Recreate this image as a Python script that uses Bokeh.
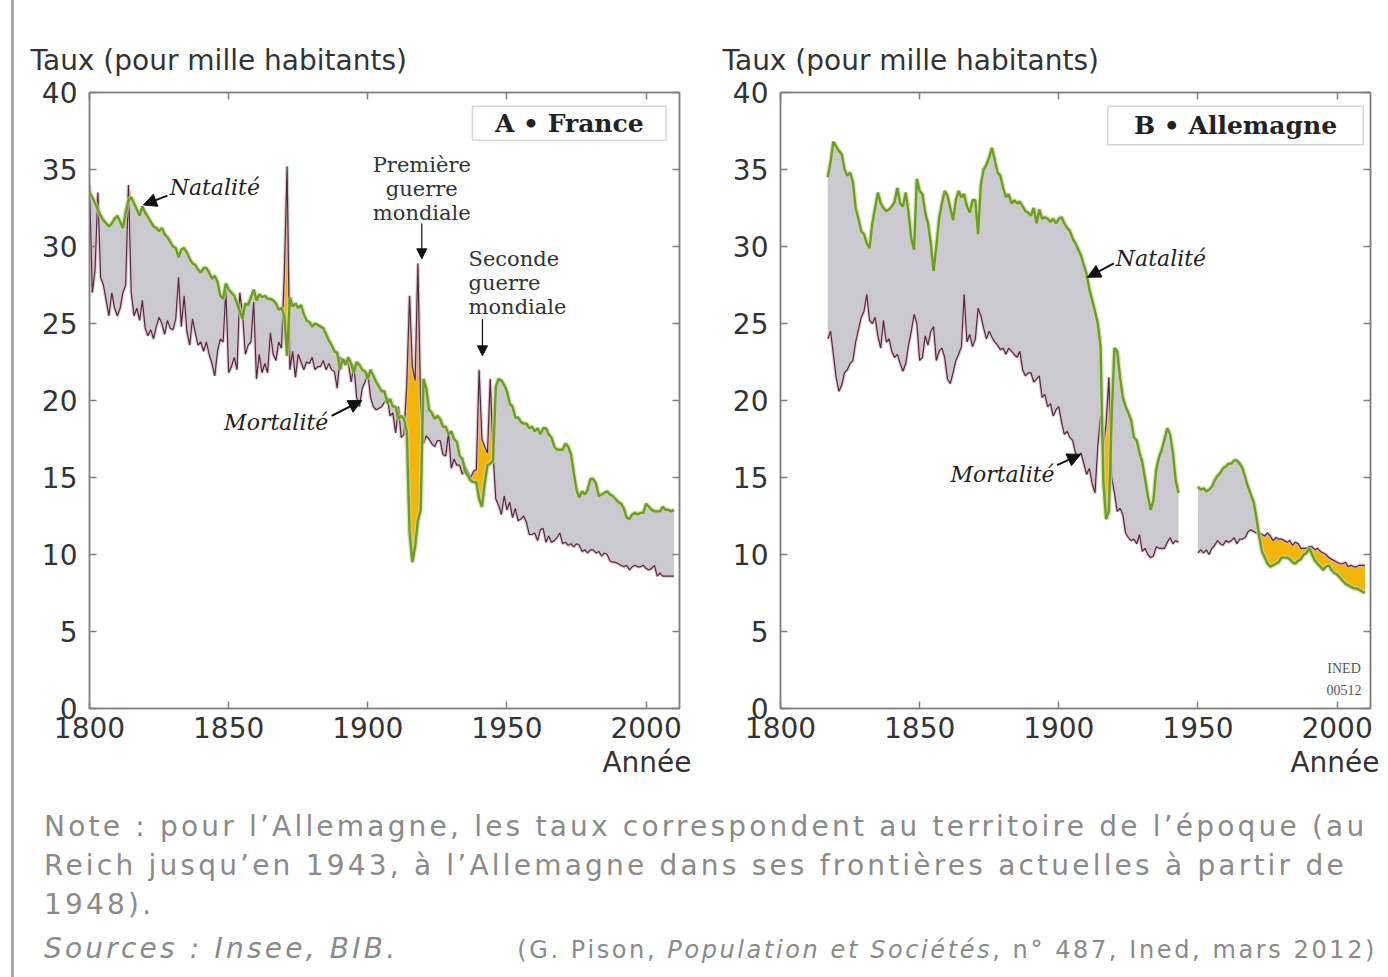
import numpy as np
from bokeh.plotting import figure
from bokeh.models import Range1d, LinearAxis, FixedTicker, Label, Arrow, NormalHead, BoxAnnotation, Div, Title
from bokeh.layouts import column, row
from bokeh.embed import file_html
from bokeh.resources import INLINE

# ---------------- data (taux pour mille habitants) ----------------
fr_years = list(range(1800, 2011))
fr_birth = [
    33.5, 33.2, 32.8, 32.4, 32.0, 31.7, 31.5, 31.3, 31.5, 31.8,   # 1800
    32.0, 31.6, 31.2, 32.2, 33.0, 33.2, 32.8, 32.4, 32.0, 32.6,   # 1810
    32.2, 31.9, 31.6, 31.3, 31.2, 31.0, 31.2, 30.8, 30.6, 30.3,   # 1820
    30.0, 29.9, 29.3, 29.8, 29.9, 29.6, 29.2, 28.9, 28.8, 28.5,   # 1830
    28.3, 28.6, 28.6, 28.3, 27.9, 28.1, 27.7, 26.8, 26.6, 27.6,   # 1840
    27.2, 27.0, 26.8, 26.3, 25.8, 25.3, 26.3, 26.2, 26.7, 27.2,   # 1850
    26.5, 26.9, 26.7, 26.8, 26.6, 26.6, 26.5, 26.3, 25.9, 26.0,   # 1860
    25.5, 22.9, 26.7, 26.1, 26.3, 26.0, 26.2, 25.6, 25.2, 25.1,   # 1870
    24.8, 25.0, 24.9, 24.8, 24.7, 24.3, 23.9, 23.6, 23.2, 23.1,   # 1880
    22.0, 22.7, 22.3, 22.8, 22.4, 21.8, 22.5, 22.3, 22.0, 21.9,   # 1890
    21.4, 22.0, 21.6, 21.2, 20.9, 20.6, 20.6, 19.8, 20.1, 19.6,   # 1900
    19.6, 18.8, 19.0, 18.8, 18.0, 11.5, 9.5, 10.5, 12.2, 12.9,    # 1910
    21.4, 20.8, 19.4, 19.2, 18.8, 19.0, 18.8, 18.3, 18.3, 17.8,   # 1920
    18.0, 17.5, 17.3, 16.4, 16.2, 15.4, 15.1, 14.8, 14.7, 14.7,   # 1930
    13.6, 13.1, 14.6, 15.8, 15.9, 16.1, 20.9, 21.4, 21.3, 21.0,   # 1940
    20.6, 19.8, 19.6, 18.9, 18.9, 18.6, 18.5, 18.5, 18.2, 18.3,   # 1950
    18.0, 18.2, 17.8, 18.2, 18.2, 17.8, 17.6, 17.0, 16.8, 16.8,   # 1960
    16.8, 17.2, 17.0, 16.5, 15.3, 14.2, 13.7, 14.1, 13.9, 14.2,   # 1970
    14.9, 14.9, 14.6, 13.8, 13.9, 14.0, 14.1, 13.9, 13.8, 13.6,   # 1980
    13.4, 13.3, 13.0, 12.4, 12.3, 12.6, 12.7, 12.6, 12.7, 12.7,   # 1990
    13.3, 13.1, 12.9, 12.8, 12.8, 12.8, 13.1, 12.9, 12.9, 12.8, 12.9,  # 2000
]
fr_death = [
    34.0, 27.0, 28.5, 33.5, 28.0, 27.5, 26.5, 25.5, 27.0, 26.0,   # 1800
    25.5, 26.0, 27.0, 27.5, 34.0, 27.0, 25.5, 26.0, 25.2, 26.5,   # 1810
    24.7, 24.2, 24.6, 24.0, 24.8, 25.4, 25.0, 24.3, 25.2, 24.7,   # 1820
    24.6, 25.3, 28.0, 24.8, 26.8, 24.5, 23.6, 25.3, 24.4, 23.6,   # 1830
    23.8, 23.2, 23.8, 23.0, 22.4, 21.6, 23.2, 24.0, 23.8, 27.2,   # 1840
    21.8, 22.2, 22.8, 22.0, 27.0, 25.6, 23.0, 23.6, 23.8, 26.4,   # 1850
    21.4, 23.0, 21.8, 22.4, 21.8, 24.4, 23.0, 22.6, 23.8, 23.4,   # 1860
    28.2, 35.2, 22.0, 23.2, 21.5, 23.0, 22.5, 22.0, 22.5, 22.4,   # 1870
    22.8, 22.0, 22.2, 22.2, 22.6, 22.0, 22.4, 22.0, 21.9, 20.8,   # 1880
    22.8, 22.6, 22.6, 22.5, 21.2, 22.3, 20.2, 19.6, 20.8, 21.2,   # 1890
    21.8, 20.2, 19.6, 19.4, 19.5, 19.6, 19.9, 20.2, 19.0, 19.2,   # 1900
    17.9, 19.6, 17.6, 17.8, 21.0, 26.8, 22.2, 21.3, 28.9, 19.6,   # 1910
    17.2, 17.7, 17.5, 17.2, 17.0, 17.4, 17.4, 16.5, 16.4, 17.9,   # 1920
    15.6, 16.2, 15.8, 15.8, 15.2, 15.7, 15.3, 15.0, 15.4, 15.5,   # 1930
    22.0, 17.5, 17.0, 16.6, 21.4, 16.6, 13.6, 13.2, 12.6, 13.8,   # 1940
    12.9, 13.4, 12.4, 13.0, 12.2, 12.3, 12.5, 12.1, 11.3, 11.3,   # 1950
    11.4, 10.9, 11.6, 11.7, 10.8, 11.2, 10.8, 10.9, 11.1, 11.4,   # 1960
    10.7, 10.8, 10.6, 10.7, 10.5, 10.7, 10.6, 10.2, 10.3, 10.1,   # 1970
    10.3, 10.3, 10.1, 10.2, 9.9, 10.1, 10.0, 9.6, 9.5, 9.5,       # 1980
    9.4, 9.3, 9.2, 9.3, 9.0, 9.2, 9.3, 9.2, 9.2, 9.3,             # 1990
    9.1, 9.0, 9.1, 9.3, 8.6, 8.8, 8.6, 8.6, 8.6, 8.6, 8.6,        # 2000
]

# Allemagne : Reich jusqu'en 1943
de_years_reich = list(range(1817, 1944))
de_birth_reich = [
    34.5, 35.5, 36.8,                                             # 1817
    36.5, 36.2, 36.0, 35.0, 34.6, 34.8, 34.2, 32.5, 31.8, 31.0,   # 1820
    30.8, 30.2, 29.9, 31.5, 32.5, 33.5, 32.8, 32.5, 32.3, 32.4,   # 1830
    32.6, 32.9, 33.8, 32.8, 32.6, 33.5, 32.2, 30.5, 29.8, 34.4,   # 1840
    33.6, 33.4, 32.2, 31.5, 30.2, 28.4, 30.0, 31.8, 32.8, 33.6,   # 1850
    33.3, 32.5, 31.7, 33.0, 33.6, 33.2, 33.4, 32.6, 32.2, 33.0,   # 1860
    33.0, 30.8, 34.0, 35.0, 35.3, 35.8, 36.4, 35.6, 34.8, 34.6,   # 1870
    33.8, 33.2, 33.4, 32.8, 33.0, 32.8, 32.9, 32.6, 32.3, 32.2,   # 1880
    32.0, 32.5, 31.5, 32.4, 31.8, 31.9, 31.8, 31.6, 31.8, 31.5,   # 1890
    31.8, 31.9, 31.5, 31.2, 31.0, 30.5, 30.2, 29.8, 29.4, 28.8,   # 1900
    28.2, 27.2, 26.5, 25.8, 25.0, 23.5, 14.8, 12.3, 12.8, 19.0,   # 1910
    23.4, 23.2, 21.5, 20.2, 19.6, 19.2, 18.7, 17.6, 17.4, 16.6,   # 1920
    16.0, 14.9, 13.8, 12.9, 13.5, 15.5, 16.3, 16.8, 17.5, 18.2,   # 1930
    17.8, 16.6, 14.8, 14.0,                                       # 1940
]
de_death_reich = [
    24.0, 24.5, 23.0,                                             # 1817
    21.5, 20.6, 21.0, 21.8, 22.0, 22.4, 22.6, 23.8, 24.6, 25.4,   # 1820
    25.8, 26.9, 25.2, 25.0, 25.4, 24.2, 23.4, 25.2, 23.8, 24.0,   # 1830
    23.2, 22.8, 23.0, 22.4, 21.9, 22.4, 23.6, 24.5, 25.6, 25.0,   # 1840
    22.6, 22.8, 24.2, 23.6, 24.5, 24.8, 22.6, 23.2, 23.4, 22.8,   # 1850
    21.4, 21.1, 21.8, 22.6, 23.0, 23.5, 26.9, 23.8, 24.3, 23.5,   # 1860
    24.0, 26.0, 25.5, 24.7, 24.0, 24.5, 24.1, 23.8, 23.6, 23.3,   # 1870
    23.4, 23.0, 23.4, 23.2, 23.0, 22.8, 23.2, 22.0, 21.6, 21.8,   # 1880
    21.8, 21.2, 21.4, 21.6, 20.2, 20.4, 19.6, 19.8, 19.0, 19.4,   # 1890
    19.6, 18.6, 17.8, 18.0, 17.6, 17.4, 16.6, 16.4, 16.6, 15.9,   # 1900
    15.2, 15.6, 14.6, 14.0, 17.0, 19.0, 17.0, 18.5, 21.5, 15.0,   # 1910
    14.0, 12.8, 13.0, 12.6, 11.4, 11.1, 10.9, 11.0, 10.7, 11.3,   # 1920
    10.2, 10.4, 10.0, 9.8, 9.9, 10.5, 10.4, 10.4, 10.4, 10.8,     # 1930
    11.1, 10.7, 10.9, 10.8,                                       # 1940
]

# Allemagne : frontières actuelles
de_years_fed = list(range(1950, 2011))
de_birth_fed = [
    14.4, 14.2, 14.3, 14.1, 14.2, 14.4, 14.8, 15.1, 15.3, 15.6,   # 1950
    15.7, 15.9, 15.9, 16.1, 16.1, 15.9, 15.6, 15.0, 14.4, 13.9,   # 1960
    13.4, 12.4, 11.2, 10.2, 9.8, 9.4, 9.2, 9.3, 9.4, 9.5,         # 1970
    9.8, 9.8, 9.8, 9.7, 9.5, 9.4, 9.6, 9.7, 10.0, 10.1,           # 1980
    10.4, 10.0, 9.6, 9.4, 9.2, 9.0, 9.2, 9.3, 9.0, 8.8,           # 1990
    8.7, 8.5, 8.3, 8.1, 8.0, 7.9, 7.8, 7.8, 7.7, 7.6, 7.5,        # 2000
]
de_death_fed = [
    10.1, 10.3, 10.1, 10.3, 10.0, 10.4, 10.6, 10.9, 10.7, 10.6,   # 1950
    10.9, 10.8, 10.9, 11.1, 10.7, 11.0, 11.0, 11.1, 11.5, 11.6,   # 1960
    11.5, 11.4, 11.4, 11.3, 11.2, 11.4, 11.2, 10.9, 11.1, 11.0,   # 1970
    11.0, 10.9, 10.8, 10.9, 10.6, 10.8, 10.7, 10.4, 10.4, 10.4,   # 1980
    10.5, 10.5, 10.3, 10.4, 10.2, 10.1, 10.0, 9.8, 9.7, 9.6,      # 1990
    9.5, 9.4, 9.4, 9.5, 9.2, 9.3, 9.2, 9.2, 9.3, 9.3, 9.3,        # 2000
]

x_ticks = [1800, 1850, 1900, 1950, 2000]
y_ticks = [0, 5, 10, 15, 20, 25, 30, 35, 40]

# ---------------- styles ----------------
GRAY = "#c9c9cf"
YELLOW = "#f3b50c"
GREEN = "#6f9b2e"
GREEN_HALO = "#c6dc95"
DEATH = "#4d2e3e"
DEATH_HALO = "#d9b8c6"
AXIS = "#808080"
TXT = "#333333"
SANS = "DejaVu Sans"
SERIF = "DejaVu Serif"


def style_axis(ax, labels=True):
    ax.axis_line_color = AXIS
    ax.axis_line_width = 1.5
    ax.major_tick_line_color = AXIS
    ax.major_tick_line_width = 1.5
    ax.major_tick_in = 7
    ax.major_tick_out = 0
    ax.minor_tick_line_color = None
    if labels:
        ax.major_label_text_font = SANS
        ax.major_label_text_font_size = "28px"
        ax.major_label_text_color = TXT
    else:
        ax.major_label_text_font_size = "1px"
        ax.major_label_text_color = None
        ax.major_label_standoff = 0


def make_panel(border_left, border_right, title_offset, annee_offset):
    p = figure(frame_width=590, frame_height=616,
               x_range=Range1d(1800, 2012), y_range=Range1d(0, 40),
               min_border_left=border_left, min_border_right=border_right,
               min_border_top=92, min_border_bottom=75,
               output_backend="svg", toolbar_location=None)
    p.grid.visible = False
    p.outline_line_color = AXIS
    p.outline_line_width = 1.5
    p.title.text = "Taux (pour mille habitants)"
    p.title.align = "left"
    p.title.offset = title_offset
    p.title.standoff = 32
    p.title.text_font = SANS
    p.title.text_font_size = "28px"
    p.title.text_font_style = "normal"
    p.title.text_color = TXT
    p.xaxis.ticker = FixedTicker(ticks=x_ticks)
    p.yaxis.ticker = FixedTicker(ticks=y_ticks)
    for ax in p.xaxis:
        style_axis(ax)
        ax.major_label_standoff = 8
    for ax in p.yaxis:
        style_axis(ax)
        ax.major_label_standoff = 12
    top = LinearAxis(ticker=FixedTicker(ticks=x_ticks))
    style_axis(top, labels=False)
    p.add_layout(top, "above")
    right = LinearAxis(ticker=FixedTicker(ticks=y_ticks))
    style_axis(right, labels=False)
    p.add_layout(right, "right")
    p.add_layout(Title(text="Année", align="right", offset=annee_offset, standoff=6,
                       text_font=SANS, text_font_size="28px", text_font_style="normal",
                       text_color=TXT), "below")
    return p


def draw_series(p, years, birth, death):
    b = np.array(birth, dtype=float)
    d = np.array(death, dtype=float)
    top = np.maximum(b, d)
    p.varea(x=years, y1=d, y2=top, fill_color=GRAY)
    p.varea(x=years, y1=b, y2=top, fill_color=YELLOW)
    p.line(years, death, line_color=DEATH_HALO, line_width=3.5, line_alpha=0.8)
    p.line(years, death, line_color=DEATH, line_width=1.2)
    p.line(years, birth, line_color=GREEN_HALO, line_width=5, line_alpha=0.7)
    p.line(years, birth, line_color=GREEN, line_width=2.4)


def pointer(p, x0, y0, x1, y1, size=13, width=2):
    p.add_layout(Arrow(end=NormalHead(size=size, fill_color="#111111", line_color="#111111"),
                       x_start=x0, y_start=y0, x_end=x1, y_end=y1,
                       line_color="#111111", line_width=width))


# ---------------- panel A : France ----------------
p1 = make_panel(89, 29, -59, -12)
draw_series(p1, fr_years, fr_birth, fr_death)
p1.add_layout(BoxAnnotation(left=1937.6, right=2007.2, bottom=36.9, top=39.1,
                            fill_color="white", fill_alpha=1, line_color="#777777", line_width=1.5))
p1.add_layout(Label(x=1972.4, y=38.0, text="A • France", text_align="center", text_baseline="middle",
                    text_font=SERIF, text_font_style="bold", text_font_size="25px", text_color="#222222"))
p1.add_layout(Label(x=1828.8, y=33.8, text="Natalité", text_baseline="middle",
                    text_font=SERIF, text_font_style="italic", text_font_size="22px", text_color="#222222"))
pointer(p1, 1828.0, 33.3, 1819.4, 32.7)
p1.add_layout(Label(x=1885.8, y=18.6, text="Mortalité", text_align="right", text_baseline="middle",
                    text_font=SERIF, text_font_style="italic", text_font_size="22px", text_color="#222222"))
pointer(p1, 1887.0, 19.0, 1897.8, 20.0)
p1.add_layout(Label(x=1919.4, y=36.1, text="Première\nguerre\nmondiale", text_align="center",
                    text_baseline="top", text_line_height=1.0,
                    text_font=SERIF, text_font_size="21px", text_color=TXT))
pointer(p1, 1919.4, 31.5, 1919.4, 29.2, size=10, width=1.2)
p1.add_layout(Label(x=1936.2, y=30.0, text="Seconde\nguerre\nmondiale", text_align="left",
                    text_baseline="top", text_line_height=1.0,
                    text_font=SERIF, text_font_size="21px", text_color=TXT))
pointer(p1, 1941.2, 25.3, 1941.2, 22.9, size=10, width=1.2)

# ---------------- panel B : Allemagne ----------------
p2 = make_panel(72, 16, -58, -9)
draw_series(p2, de_years_reich, de_birth_reich, de_death_reich)
draw_series(p2, de_years_fed, de_birth_fed, de_death_fed)
p2.add_layout(BoxAnnotation(left=1917.6, right=2009.4, bottom=36.6, top=39.1,
                            fill_color="white", fill_alpha=1, line_color="#777777", line_width=1.5))
p2.add_layout(Label(x=1963.5, y=37.85, text="B • Allemagne", text_align="center", text_baseline="middle",
                    text_font=SERIF, text_font_style="bold", text_font_size="25px", text_color="#222222"))
p2.add_layout(Label(x=1920.5, y=29.2, text="Natalité", text_baseline="middle",
                    text_font=SERIF, text_font_style="italic", text_font_size="22px", text_color="#222222"))
pointer(p2, 1919.8, 28.9, 1910.3, 28.0)
p2.add_layout(Label(x=1898.5, y=15.2, text="Mortalité", text_align="right", text_baseline="middle",
                    text_font=SERIF, text_font_style="italic", text_font_size="22px", text_color="#222222"))
pointer(p2, 1899.4, 15.8, 1907.8, 16.5)
p2.add_layout(Label(x=2002.5, y=2.6, text="INED", text_align="center", text_baseline="middle",
                    text_font="Liberation Sans Narrow", text_font_size="14px", text_color="#555555"))
p2.add_layout(Label(x=2002.5, y=1.2, text="00512", text_align="center", text_baseline="middle",
                    text_font="Liberation Sans Narrow", text_font_size="14px", text_color="#555555"))

# ---------------- notes ----------------
note_html = """
<div style="position:fixed; left:11px; top:0px; width:0px; height:977px; border-left:3px solid #a8a8a8;"></div>
<div style="font-family:'DejaVu Sans'; color:#8a8a8a; font-size:28px; letter-spacing:3.2px;
            line-height:39px; padding-top:19px; margin-left:39px; white-space:nowrap;">
  <div>Note&nbsp;: pour l’Allemagne, les taux correspondent au territoire de l’époque (au</div>
  <div>Reich jusqu’en 1943, à l’Allemagne dans ses frontières actuelles à partir de</div>
  <div>1948).</div>
  <div style="display:flex; justify-content:space-between; align-items:baseline; width:1333px; margin-top:5px;">
    <span style="font-style:italic;">Sources&nbsp;: Insee, BIB.</span>
    <span style="font-size:24px; letter-spacing:2.6px;">(G. Pison, <i>Population et Sociétés</i>, n° 487, Ined, mars 2012)</span>
  </div>
</div>
"""
note = Div(text=note_html, width=1372, height=178)

layout = column(row(p1, p2), note)
open("out.html", "w").write(file_html(layout, INLINE))
